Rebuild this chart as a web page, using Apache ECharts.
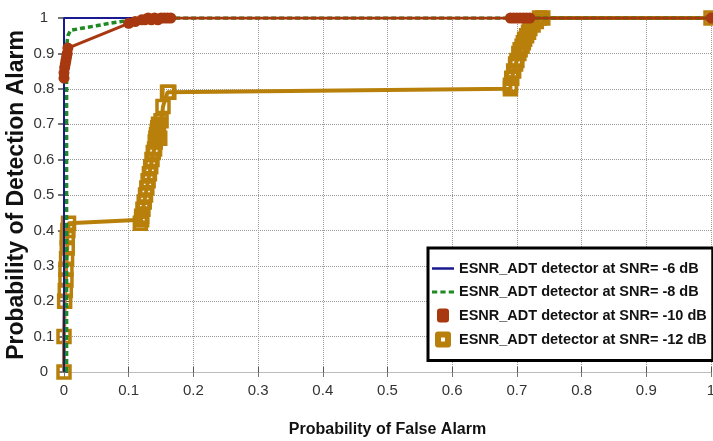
<!DOCTYPE html>
<html>
<head>
<meta charset="utf-8">
<script src="https://cdn.jsdelivr.net/npm/echarts@6/dist/echarts.min.js"></script>
<style>
html,body{margin:0;padding:0;background:#fff;}
#chart{width:713px;height:441px;}
</style>
</head>
<body>
<div id="chart"></div>
<script>
var seriesNames = ['ESNR_ADT detector at SNR= -6 dB', 'ESNR_ADT detector at SNR= -8 dB',
    'ESNR_ADT detector at SNR= -10 dB', 'ESNR_ADT detector at SNR= -12 dB'];

// -6 dB
var fa6 = [0, 0, 1];
var pd6 = [0, 1, 1];
// -8 dB
var fa8 = [0.004, 0.004, 0.006, 0.01, 0.03, 0.05, 0.07, 0.1, 0.13, 1];
var pd8 = [0, 0.92, 0.95, 0.965, 0.972, 0.978, 0.985, 0.993, 1, 1];
// -10 dB
var fa10 = [0, 0, 0.001, 0.002, 0.003, 0.004, 0.005, 0.006, 0.1, 0.11, 0.12, 0.125, 0.13, 0.135,
    0.14, 0.145, 0.15, 0.155, 0.16, 0.165, 0.69, 0.695, 0.7, 0.705, 0.71, 0.715, 0.72, 1];
var pd10 = [0.83, 0.845, 0.86, 0.87, 0.88, 0.89, 0.9, 0.915, 0.985, 0.99, 0.995, 0.995, 1, 0.995,
    1, 0.995, 1, 1, 1, 1, 1, 1, 1, 1, 1, 1, 1, 1];
// -12 dB
var fa12 = [0, 0, 0.001, 0.002, 0.003, 0.003, 0.004, 0.005, 0.005, 0.006, 0.007,
    0.12, 0.118, 0.12, 0.122, 0.124, 0.126, 0.128, 0.13, 0.132, 0.134, 0.136, 0.138, 0.14,
    0.141, 0.142, 0.143, 0.144, 0.145, 0.146, 0.15, 0.148, 0.153, 0.16, 0.162,
    0.69, 0.69, 0.692, 0.695, 0.698, 0.7, 0.703, 0.705, 0.708, 0.71, 0.712, 0.715, 0.718,
    0.72, 0.725, 0.73, 0.735, 0.74, 1];
var pd12 = [0, 0.1, 0.2, 0.23, 0.26, 0.29, 0.32, 0.35, 0.38, 0.4, 0.42,
    0.43, 0.42, 0.44, 0.46, 0.48, 0.5, 0.52, 0.54, 0.56, 0.58, 0.6, 0.62, 0.63,
    0.65, 0.66, 0.67, 0.68, 0.69, 0.7, 0.71, 0.66, 0.75, 0.79, 0.79,
    0.8, 0.81, 0.83, 0.85, 0.87, 0.88, 0.9, 0.91, 0.92, 0.93, 0.94, 0.95, 0.96,
    0.97, 0.98, 0.99, 1, 1, 1];

function zip(xs, ys) {
    var out = [];
    for (var i = 0; i < xs.length; i++) {
        out.push([xs[i], ys[i]]);
    }
    return out;
}

var font = "'Liberation Sans', Arial, sans-serif";
var blue = '#1a1a90', green = '#1f8a22', brown = '#a8380f', gold = '#b8800b';

var chart = echarts.init(document.getElementById('chart'));
var option = {
    animation: false,
    backgroundColor: '#fff',
    grid: {
        left: 64,
        right: 2,
        top: 18,
        bottom: 69,
        containLabel: false,
        outerBoundsMode: 'none'
    },
    legend: {
        data: [
            {name: seriesNames[0], icon: 'path://M0,0 L22,0 L22,2.5 L0,2.5 Z', itemStyle: {color: blue}},
            {name: seriesNames[1], icon: 'path://M0,0 L5,0 L5,3 L0,3 Z M8,0 L13,0 L13,3 L8,3 Z M16,0 L21,0 L21,3 L16,3 Z', itemStyle: {color: green}},
            {name: seriesNames[2], icon: 'path://M3,0 L9,0 Q12,0 12,3 L12,11 Q12,14 9,14 L3,14 Q0,14 0,11 L0,3 Q0,0 3,0 Z', itemStyle: {color: brown}},
            {name: seriesNames[3], icon: 'path://M2,0 L12,0 Q14,0 14,2 L14,12 Q14,14 12,14 L2,14 Q0,14 0,12 L0,2 Q0,0 2,0 Z M4,4 L4,10 L10,10 L10,4 Z', itemStyle: {color: gold}}
        ],
        orient: 'vertical',
        left: 428,
        top: 248,
        padding: [13, 6, 13, 4],
        itemWidth: 22,
        itemHeight: 14,
        itemGap: 8.5,
        backgroundColor: '#fff',
        borderColor: '#000',
        borderWidth: 3,
        textStyle: {
            color: '#111',
            fontFamily: font,
            fontWeight: 'bold',
            fontSize: 14.5,
            width: 246
        }
    },
    xAxis: [
        {
            type: 'value',
            min: 0,
            max: 1,
            interval: 0.1,
            name: 'Probability of False Alarm',
            nameLocation: 'middle',
            nameGap: 50,
            nameTextStyle: {
                color: '#111',
                fontFamily: font,
                fontWeight: 'bold',
                fontSize: 16
            },
            axisLine: {lineStyle: {color: '#222', width: 1}},
            axisTick: {inside: true, length: 5, lineStyle: {color: '#555'}},
            axisLabel: {
                color: '#333',
                fontFamily: font,
                fontSize: 15,
                margin: 11,
                formatter: function (v) { return String(+v.toFixed(1)); }
            },
            splitLine: {show: true, lineStyle: {type: 'dotted', color: '#999'}}
        },
        {
            type: 'value',
            position: 'top',
            min: 0,
            max: 1,
            interval: 0.1,
            axisLine: {lineStyle: {color: '#bbb'}},
            axisTick: {inside: true, length: 5, lineStyle: {color: '#777'}},
            axisLabel: {show: false},
            splitLine: {show: false}
        }
    ],
    yAxis: [
        {
            type: 'value',
            min: 0,
            max: 1,
            interval: 0.1,
            name: 'Probability of Detection Alarm',
            nameLocation: 'middle',
            nameGap: 36,
            nameMoveOverlap: false,
            nameTextStyle: {
                color: '#111',
                fontFamily: font,
                fontWeight: 'bold',
                fontSize: 23
            },
            axisLine: {show: true, lineStyle: {color: '#222', width: 1}},
            axisTick: {show: true, inside: true, length: 5, lineStyle: {color: '#555'}},
            axisLabel: {
                color: '#333',
                fontFamily: font,
                fontSize: 15,
                align: 'center',
                margin: 20,
                formatter: function (v) { return String(+v.toFixed(1)); }
            },
            splitLine: {show: true, lineStyle: {type: 'dotted', color: '#999'}}
        },
        {
            type: 'value',
            position: 'right',
            min: 0,
            max: 1,
            interval: 0.1,
            axisLine: {show: true, lineStyle: {color: '#bbb'}},
            axisTick: {show: true, inside: true, length: 6, lineStyle: {color: '#777', width: 2}},
            axisLabel: {show: false},
            splitLine: {show: false}
        }
    ],
    series: [
        {
            name: seriesNames[3],
            type: 'line',
            z: 2,
            data: zip(fa12, pd12),
            symbol: 'rect',
            symbolSize: 12,
            color: gold,
            lineStyle: {color: gold, width: 4},
            itemStyle: {color: 'none', borderColor: gold, borderWidth: 3.5}
        },
        {
            name: seriesNames[1],
            type: 'line',
            z: 3,
            data: zip(fa8, pd8),
            symbol: 'none',
            color: green,
            lineStyle: {color: green, width: 3.5, type: [5, 3]}
        },
        {
            name: seriesNames[0],
            type: 'line',
            z: 4,
            data: zip(fa6, pd6),
            symbol: 'none',
            color: blue,
            lineStyle: {color: blue, width: 2}
        },
        {
            name: seriesNames[2],
            type: 'line',
            z: 5,
            data: zip(fa10, pd10),
            symbol: 'circle',
            symbolSize: 11,
            color: brown,
            lineStyle: {color: brown, width: 3},
            itemStyle: {color: brown}
        }
    ]
};
chart.setOption(option);
</script>
</body>
</html>
